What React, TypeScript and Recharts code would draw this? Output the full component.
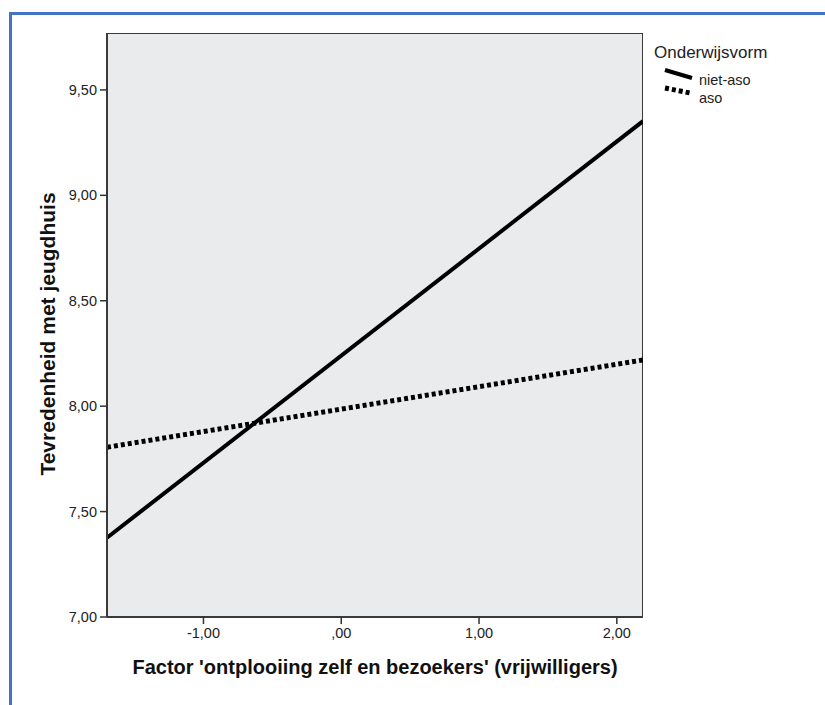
import React from "react";
import { LineChart, Line, XAxis, YAxis, ReferenceArea, Legend, Label } from "recharts";

const FONT = '"Liberation Sans", Arial, sans-serif';

// Factor values at the ends of the plotted range
const xValues = [-1.7, 2.19];
// Predicted satisfaction per group
const nietAsoValues = [7.376, 9.352];
const asoValues = [7.805, 8.219];

const xTicks = [-1, 0, 1, 2];
const yTicks = [7, 7.5, 8, 8.5, 9, 9.5];
const xDomain: [number, number] = [-1.7, 2.19];
const yDomain: [number, number] = [7, 9.77];

const seriesNames = { nietAso: "niet-aso", aso: "aso" };
const legendTitle = "Onderwijsvorm";
const xTitle = "Factor 'ontplooiing zelf en bezoekers' (vrijwilligers)";
const yTitle = "Tevredenheid met jeugdhuis";

const data = xValues.map((x, i) => ({ x, nietAso: nietAsoValues[i], aso: asoValues[i] }));

const fmt = (v: number) => {
  const s = Math.abs(v).toFixed(2).replace(".", ",");
  const t = s.startsWith("0,") ? s.slice(1) : s;
  return (v < 0 ? "-" : "") + t;
};

const LegendContent = () => (
  <svg width={170} height={75} style={{ display: "block" }}>
    <text x={4} y={18} fontSize={17} fontFamily={FONT} fill="#222">{legendTitle}</text>
    <line x1={15} y1={30} x2={42} y2={38} stroke="#000" strokeWidth={4} />
    <text x={49} y={45} fontSize={14.5} fontFamily={FONT} fill="#222">{seriesNames.nietAso}</text>
    <line x1={15} y1={48} x2={40} y2={53} stroke="#000" strokeWidth={5} strokeDasharray="4 3" />
    <text x={49} y={63} fontSize={14.5} fontFamily={FONT} fill="#222">{seriesNames.aso}</text>
  </svg>
);

export default function App() {
  return (
    <div style={{ position: "absolute", left: 0, top: 0, width: 825, height: 705, background: "#fff" }}>
      <div
        style={{
          position: "absolute",
          left: 9,
          top: 12,
          right: 0,
          bottom: 0,
          borderLeft: "3px solid #4472c4",
          borderTop: "3px solid #4472c4",
        }}
      />
      <div style={{ position: "absolute", left: 0, top: 0 }}>
        <LineChart width={825} height={705} data={data} margin={{ top: 33, right: 182, bottom: 0, left: 0 }}>
          <XAxis
            dataKey="x"
            type="number"
            domain={xDomain}
            ticks={xTicks}
            allowDataOverflow
            tickFormatter={fmt}
            height={88}
            tickSize={7}
            tickMargin={4}
            axisLine={{ stroke: "#3a3a3a", strokeWidth: 2 }}
            tickLine={{ stroke: "#333", strokeWidth: 1.5 }}
            tick={{ fill: "#222", fontSize: 14.5, fontFamily: FONT }}
          >
            <Label
              content={(props: any) => {
                const vb = props.viewBox || {};
                return (
                  <text
                    x={vb.x + vb.width / 2}
                    y={vb.y + 57}
                    textAnchor="middle"
                    fontSize={20}
                    fontWeight="bold"
                    fontFamily={FONT}
                    fill="#111"
                  >
                    {xTitle}
                  </text>
                );
              }}
            />
          </XAxis>
          <YAxis
            type="number"
            domain={yDomain}
            ticks={yTicks}
            allowDataOverflow
            tickFormatter={fmt}
            width={107}
            tickSize={7}
            tickMargin={3}
            axisLine={{ stroke: "#3a3a3a", strokeWidth: 2 }}
            tickLine={{ stroke: "#333", strokeWidth: 1.5 }}
            tick={{ fill: "#222", fontSize: 14.5, fontFamily: FONT }}
          >
            <Label
              content={() => (
                <text
                  x={55}
                  y={334}
                  transform="rotate(-90 55 334)"
                  textAnchor="middle"
                  fontSize={21}
                  fontWeight="bold"
                  fontFamily={FONT}
                  fill="#111"
                >
                  {yTitle}
                </text>
              )}
            />
          </YAxis>
          <ReferenceArea
            x1={xDomain[0]}
            x2={xDomain[1]}
            y1={yDomain[0]}
            y2={yDomain[1]}
            fill="#eaebec"
            fillOpacity={1}
            stroke="#3a3a3a"
            strokeWidth={2}
            ifOverflow="hidden"
          />
          <Line
            dataKey="nietAso"
            name={seriesNames.nietAso}
            stroke="#000"
            strokeWidth={4}
            dot={false}
            activeDot={false}
            isAnimationActive={false}
          />
          <Line
            dataKey="aso"
            name={seriesNames.aso}
            stroke="#000"
            strokeWidth={5}
            strokeDasharray="4 3"
            dot={false}
            activeDot={false}
            isAnimationActive={false}
          />
          <Legend
            layout="horizontal"
            align="center"
            verticalAlign="middle"
            content={() => <LegendContent />}
            wrapperStyle={{ position: "absolute", left: 650, top: 40, width: 170, height: 75 }}
          />
        </LineChart>
      </div>
    </div>
  );
}
